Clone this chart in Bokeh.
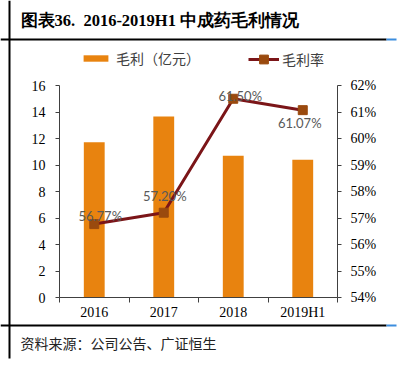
from bokeh.plotting import figure
from bokeh.models import (Range1d, LinearAxis, FixedTicker, PrintfTickFormatter, Label,
                          BoxAnnotation, Legend, LegendItem, ColumnDataSource, LabelSet)
from bokeh.core.properties import value
from bokeh.embed import file_html
from bokeh.resources import INLINE

# ---- data ----
categories = ["2016", "2017", "2018", "2019H1"]
gross_profit = [11.72, 13.66, 10.69, 10.39]      # 毛利（亿元）
gross_margin = [56.77, 57.20, 61.50, 61.07]      # 毛利率 (%)
left_ticks = [0, 2, 4, 6, 8, 10, 12, 14, 16]
right_ticks = [54, 55, 56, 57, 58, 59, 60, 61, 62]

# label offsets (style)
lab_dx = [6, 1, 7, -3]
lab_dy = [8, 17, 3, -13]

BAR = "#E8830F"
LINE = "#7B1518"
MARK = "#9A4A0E"

# ---- layout (pixels) ----
W, H = 398, 365
PL, PR, PT, PB = 59, 337, 85, 297          # plot box in canvas pixels
n = len(categories)
ux = n / (PR - PL)
y0, y1 = left_ticks[0], left_ticks[-1]
uy = (y1 - y0) / (PB - PT)
r0, r1 = right_ticks[0], right_ticks[-1]
ur = (r1 - r0) / (PB - PT)

p = figure(width=W, height=H, output_backend="svg", toolbar_location=None,
           x_range=Range1d(-PL * ux, n + (W - PR) * ux),
           y_range=Range1d(y0 - (H - PB) * uy, y1 + PT * uy),
           x_axis_location=None, y_axis_location=None,
           min_border=0, outline_line_color=None,
           background_fill_color="white", border_fill_color="white")
p.extra_y_ranges = {"pct": Range1d(r0 - (H - PB) * ur, r1 + PT * ur)}
p.xgrid.visible = False
p.ygrid.visible = False

xs = [i + 0.5 for i in range(n)]
src = ColumnDataSource(dict(x=xs, gp=gross_profit, gm=gross_margin,
                            txt=[f"{v:.2f}%" for v in gross_margin], dx=lab_dx, dy=lab_dy))

bars = p.vbar(x="x", top="gp", width=0.3, source=src, fill_color=BAR, line_color=None)
line_r = p.line(x="x", y="gm", source=src, y_range_name="pct", line_color=LINE, line_width=3)
mark_r = p.scatter(x="x", y="gm", source=src, y_range_name="pct", marker="square", size=9,
                   fill_color=MARK, line_color=MARK)

labels = LabelSet(x="x", y="gm", text="txt", source=src, y_range_name="pct",
                  x_offset="dx", y_offset="dy", text_align="center", text_baseline="middle",
                  text_font=value("Lato"), text_font_size="13px", text_color="#595959")
p.add_layout(labels)

# ---- axes ----
tick_font = "Liberation Serif"
def style_axis(a):
    a.major_tick_in = 0
    a.major_tick_out = 4
    a.minor_tick_out = 0
    a.minor_tick_in = 0
    a.major_label_text_font = tick_font
    a.major_label_text_font_size = "14px"
    a.major_label_text_color = "#000000"
    a.axis_line_color = "#404040"
    a.major_tick_line_color = "#404040"
    a.minor_tick_line_color = "#404040"

lax = LinearAxis(ticker=FixedTicker(ticks=left_ticks), fixed_location=0.0, bounds=(y0, y1))
style_axis(lax)
lax.major_label_standoff = 10
p.add_layout(lax, "left")

rax = LinearAxis(y_range_name="pct", ticker=FixedTicker(ticks=right_ticks),
                 formatter=PrintfTickFormatter(format="%d%%"), fixed_location=n, bounds=(r0, r1))
style_axis(rax)
rax.major_label_standoff = 9
p.add_layout(rax, "right")

bx = LinearAxis(ticker=FixedTicker(ticks=xs, minor_ticks=list(range(n + 1))),
                fixed_location=y0, bounds=(0, n))
style_axis(bx)
bx.major_label_overrides = {x: c for x, c in zip(xs, categories)}
bx.major_tick_out = 0
bx.minor_tick_out = 5
bx.major_label_standoff = 2
p.add_layout(bx, "below")

# ---- legends ----
leg_font = "Noto Sans CJK SC"
common = dict(orientation="horizontal", padding=0, margin=0, border_line_color=None,
              background_fill_alpha=0, label_text_font=leg_font, label_text_font_size="14px",
              label_text_color="#404040", label_height=8, glyph_width=31)
leg1 = Legend(items=[LegendItem(label="毛利（亿元）", renderers=[bars])],
              location=(80, H - 59 - 9), glyph_height=8, label_standoff=5, **common)
leg2 = Legend(items=[LegendItem(label="毛利率", renderers=[line_r, mark_r])],
              location=(248, H - 59 - 11), glyph_height=22, label_standoff=3, **common)
p.add_layout(leg1)
p.add_layout(leg2)

# ---- frame decorations (screen units, y from bottom) ----
for (l, r, b, t, c) in [(8, 10, H - 358, H, "#000000"),
                        (0, 386, H - 40, H - 38, "#000000"),
                        (386, 396, H - 40, H - 38, "#3C8DDE"),
                        (0, 386, H - 326, H - 324, "#000000"),
                        (386, 396, H - 326, H - 324, "#3C8DDE")]:
    p.add_layout(BoxAnnotation(left=l, right=r, top=t, bottom=b, left_units="screen",
                               right_units="screen", top_units="screen", bottom_units="screen",
                               fill_color=c, fill_alpha=1, line_color=None))

p.add_layout(Label(x=20, y=H - 20, x_units="screen", y_units="screen",
                   text="图表36.\u00a0\u00a02016-2019H1 中成药毛利情况",
                   text_font="Liberation Serif", text_font_style="bold", text_font_size="16.5px",
                   text_baseline="middle", text_color="#000000"))
p.add_layout(Label(x=20, y=H - 342, x_units="screen", y_units="screen",
                   text="资料来源：公司公告、广证恒生",
                   text_font=leg_font, text_font_size="14px",
                   text_baseline="middle", text_color="#222222"))

open("out.html", "w").write(file_html(p, INLINE))
